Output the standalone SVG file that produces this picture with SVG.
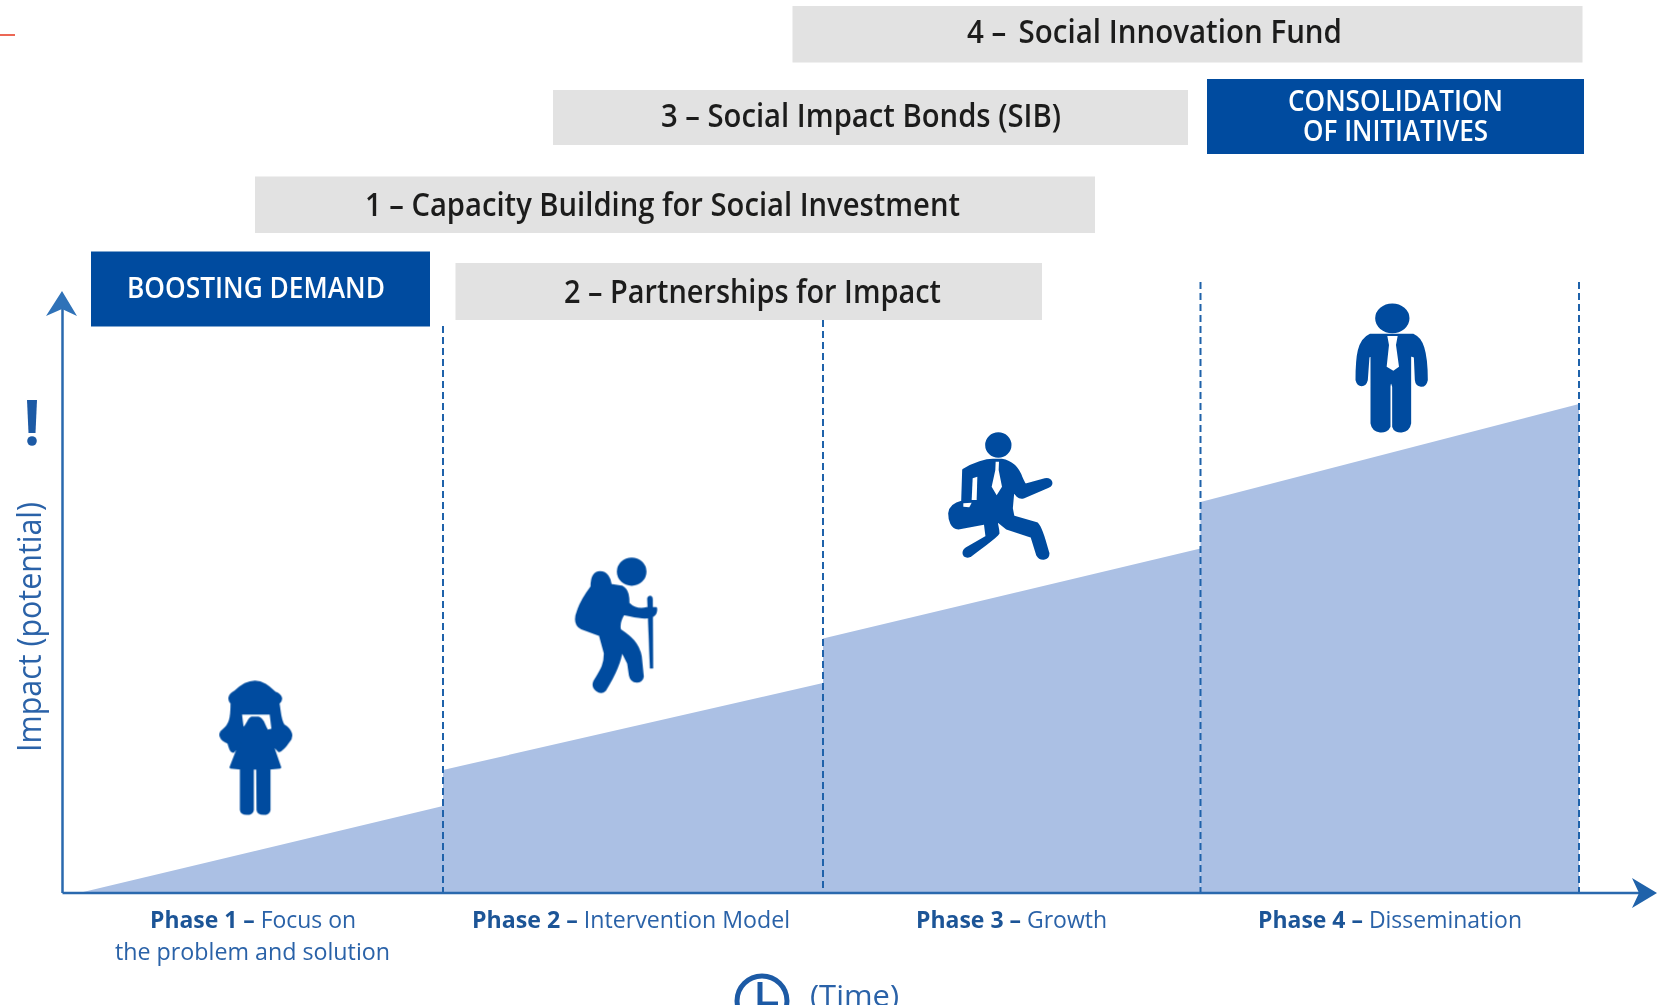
<svg xmlns="http://www.w3.org/2000/svg" width="1657" height="1005" viewBox="0 0 1657 1005">
<style>
text{font-family:"Open Sans","Noto Sans","Liberation Sans",sans-serif}
.box{fill:#e2e2e2}
.hdr{fill:#004c9f}
.bt{font-size:32px;font-weight:600;fill:#1d1d1b;text-anchor:start}
.wt{font-size:29px;font-weight:600;fill:#fff;text-anchor:start}
.ph{font-size:24px;fill:#2a62a8}
.ph .b{font-weight:700;fill:#1f5597}
.area{fill:#abc0e4}
.axis{stroke:#2a69ae;stroke-width:2.5;fill:none}
.dash{stroke:#1f62aa;stroke-width:2;stroke-dasharray:7 4;fill:none}
.ico{fill:#004c9f;stroke:#004c9f;stroke-width:7;stroke-linejoin:round}
.gap{fill:#fff}
</style>
<defs><filter id="soft" x="-5%" y="-5%" width="110%" height="110%"><feGaussianBlur stdDeviation="0.7"/></filter></defs>
<rect width="1657" height="1005" fill="#fff"/>
<path d="M0 35H15" stroke="#e8402a" stroke-width="1.6"/>
<g id="ramp" class="area"><path d="M79 893L443 806V893Z"/><path d="M443 770L823 683V893H443Z"/><path d="M823 638.500L1200.500 548.500V893H823Z"/><path d="M1200.500 502L1579 404V893H1200.500Z"/></g>
<g id="connectors">
<path class="dash" d="M443 326V893M823 320V893M1200.500 282V893M1579 282V893"/>
<path class="axis" d="M62.500 893V300M62.500 893H1640"/>
<path fill="#2f72b8" d="M62 291L77 316L62 309L46 316Z"/>
<path fill="#1f62aa" d="M1657 893L1632 878L1639 893L1632 908Z"/>
</g>
<g filter="url(#soft)">
<g id="initiative-4"><rect class="box" x="792.500" y="6" width="790" height="56.500"/><text class="bt" x="967" y="43" textLength="375" lengthAdjust="spacingAndGlyphs">4 – <tspan dx="5">Social Innovation Fund</tspan></text></g>
<g id="initiative-3"><rect class="box" x="553" y="90" width="635" height="55"/><text class="bt" x="661" y="127" textLength="400" lengthAdjust="spacingAndGlyphs">3 – Social Impact Bonds (SIB)</text></g>
<g id="consolidation"><rect class="hdr" x="1207" y="79" width="377" height="75"/><text class="wt"><tspan x="1288" y="111" textLength="215" lengthAdjust="spacingAndGlyphs">CONSOLIDATION</tspan><tspan x="1303" y="141" textLength="185" lengthAdjust="spacingAndGlyphs">OF INITIATIVES</tspan></text></g>
<g id="initiative-1"><rect class="box" x="255" y="176.500" width="840" height="56.500"/><text class="bt" x="365" y="216" textLength="595" lengthAdjust="spacingAndGlyphs">1 – Capacity Building for Social Investment</text></g>
<g id="boosting-demand"><rect class="hdr" x="91" y="251.500" width="339" height="75"/><text class="wt" x="127" y="298" textLength="258" lengthAdjust="spacingAndGlyphs">BOOSTING DEMAND</text></g>
<g id="initiative-2"><rect class="box" x="455.500" y="263" width="586.500" height="57"/><text class="bt" x="564" y="303" textLength="377" lengthAdjust="spacingAndGlyphs">2 – Partnerships for Impact</text></g>
<g id="y-label"><path d="M27 400H37L35.500 433H28.500Z" fill="#1f5aa5"/><circle cx="32" cy="441" r="4.800" fill="#1f5aa5"/><text transform="translate(41 752) rotate(-90)" font-size="33" font-weight="500" fill="#2a62a8" textLength="250" lengthAdjust="spacingAndGlyphs">Impact (potential)</text></g>
<g id="phase-1" class="ph"><text><tspan x="150" y="928" textLength="206" lengthAdjust="spacingAndGlyphs"><tspan class="b">Phase 1 – </tspan>Focus on</tspan><tspan x="115" y="960" textLength="275" lengthAdjust="spacingAndGlyphs">the problem and solution</tspan></text>
<path class="ico" transform="translate(180 650) scale(.3333)" fill-rule="evenodd" d="M225 95C250 95 270 115 285 128C305 135 308 150 295 160C300 190 300 210 310 225C335 240 340 260 325 275C315 290 305 300 297 303L275 280L300 352L268 355V480C265 495 235 495 233 480L232 355H218V480C215 495 185 495 183 480V355L152 352L180 280L160 305C150 305 150 290 145 278C120 270 115 250 130 240C150 225 155 205 155 160C145 150 145 135 165 125C180 110 200 95 225 95ZM182 190H272L278 238L262 243C250 225 250 205 235 203H215C205 205 205 225 188 238Z"/></g>
<g id="phase-2" class="ph"><text x="472" y="928" textLength="318" lengthAdjust="spacingAndGlyphs"><tspan class="b">Phase 2 – </tspan>Intervention Model</text>
<g class="ico" transform="translate(550 540) scale(.3333)"><ellipse cx="245" cy="95" rx="41" ry="39"/><path d="M150 97C170 97 180 115 182 135L215 140C235 150 235 175 235 190C250 205 270 210 290 205L318 205C320 225 305 232 285 232C260 232 240 225 220 222C210 240 205 255 210 270C240 290 265 310 272 350L278 410C275 430 245 430 240 405L235 370L215 330C210 370 190 410 165 450C150 465 125 445 133 425C150 395 165 380 165 340L150 285L95 265C75 255 75 235 85 210C95 180 110 160 125 140C125 115 130 97 150 97Z"/><path stroke-width="1" d="M292 175C295 165 308 165 308 178L309 385L300 385Z"/></g></g>
<g id="phase-3" class="ph"><text x="916" y="928" textLength="191" lengthAdjust="spacingAndGlyphs"><tspan class="b">Phase 3 – </tspan>Growth</text>
<g transform="translate(930 420) scale(.3333)"><ellipse class="ico" cx="205" cy="75" rx="36" ry="35"/><path class="ico" stroke-width="12" d="M100 150C130 130 170 118 195 120H215C245 125 265 145 275 175L285 195L345 178C365 175 370 195 355 200L280 232C265 235 258 225 250 210L245 265L250 290L320 310C335 320 345 370 355 400C355 420 330 420 322 405L305 350L230 325L205 305C195 305 205 320 205 340C200 350 190 355 120 408C100 415 95 395 110 385L170 350L165 310L85 325C65 325 58 300 58 280C60 260 75 250 97 245Z"/><path class="gap" d="M197 125H207L206 150L216 200L200 226L185 200L196 150Z"/><path class="gap" d="M128 175L142 170L140 240L125 240Z"/><path class="gap" d="M100 250L125 248L118 262L100 260Z"/></g></g>
<g id="phase-4" class="ph"><text x="1258" y="928" textLength="264" lengthAdjust="spacingAndGlyphs"><tspan class="b">Phase 4 – </tspan>Dissemination</text>
<g transform="translate(1330 290) scale(.3333)"><ellipse class="ico" cx="187" cy="85" rx="48" ry="41"/><path class="ico" d="M120 135H250C275 145 290 180 290 270C285 295 260 290 258 270L255 200L240 195V400C235 430 195 430 190 410V290C185 270 180 270 178 290V410C170 430 130 430 125 400V195L115 200L110 270C105 290 85 290 80 270C80 200 85 150 120 135Z"/><path class="gap" d="M172 138H203L198 165L207 230L190 242L170 230L177 165Z"/></g></g>
<g id="time"><circle cx="762" cy="1001" r="25" fill="none" stroke="#1f5aa5" stroke-width="5"/><path d="M760 982V1004H778" fill="none" stroke="#1f5aa5" stroke-width="5"/><text x="810" y="1006" font-size="30" font-weight="500" fill="#2a62a8" textLength="89" lengthAdjust="spacingAndGlyphs">(Time)</text></g>
</g>
</svg>
